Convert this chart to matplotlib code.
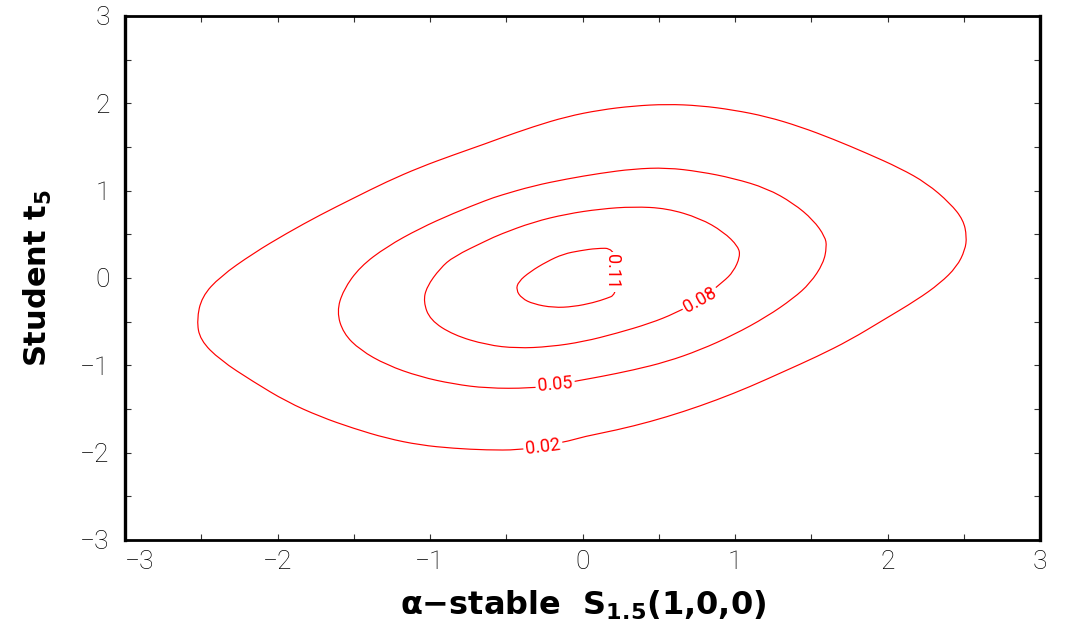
import matplotlib
matplotlib.use("Agg")
import matplotlib.pyplot as plt
import numpy as np
from matplotlib.path import Path
from matplotlib.patches import PathPatch
from matplotlib.ticker import MultipleLocator

# contour levels and the curves (data units)
levels = [0.02, 0.05, 0.08, 0.11]
x_ticks = [-3, -2, -1, 0, 1, 2, 3]
y_ticks = [-3, -2, -1, 0, 1, 2, 3]

c002_x = [0.005, -0.082, -0.259, -0.421, -0.628, -0.847, -1.066, -1.284, -1.503, -1.721,
          -1.940, -2.159, -2.377, -2.508, -2.530, -2.497, -2.377, -2.159, -1.940, -1.721,
          -1.503, -1.284, -1.066, -0.847, -0.628, -0.541, -0.323, -0.104, 0.115, 0.333,
          0.552, 0.770, 0.989, 1.208, 1.426, 1.645, 1.864, 2.082, 2.257, 2.410,
          2.497, 2.519, 2.508, 2.454, 2.344, 2.191, 1.972, 1.754, 1.536, 1.317,
          1.098, 0.880, 0.661, 0.443, 0.224]
c002_y = [-1.818, -1.864, -1.924, -1.970, -1.970, -1.951, -1.913, -1.836, -1.722, -1.588,
          -1.417, -1.188, -0.939, -0.710, -0.481, -0.215, 0.015, 0.283, 0.512, 0.722,
          0.913, 1.103, 1.268, 1.409, 1.543, 1.600, 1.733, 1.848, 1.924, 1.970,
          1.990, 1.974, 1.924, 1.848, 1.733, 1.589, 1.428, 1.257, 1.085, 0.856,
          0.664, 0.473, 0.321, 0.129, -0.061, -0.252, -0.481, -0.710, -0.901, -1.073,
          -1.245, -1.397, -1.531, -1.646, -1.741]

c005_x = [-0.005, -0.180, -0.344, -0.628, -0.847, -1.066, -1.284, -1.459, -1.569, -1.612,
          -1.569, -1.459, -1.284, -1.066, -0.847, -0.628, -0.541, -0.323, -0.104, 0.115,
          0.333, 0.552, 0.770, 0.989, 1.208, 1.382, 1.513, 1.590, 1.601, 1.579,
          1.492, 1.382, 1.208, 0.989, 0.770, 0.552, 0.333, 0.115]
c005_y = [-1.168, -1.226, -1.263, -1.263, -1.214, -1.131, -0.997, -0.825, -0.633, -0.386,
          -0.137, 0.129, 0.359, 0.569, 0.741, 0.893, 0.945, 1.055, 1.134, 1.199,
          1.249, 1.263, 1.218, 1.142, 1.027, 0.856, 0.664, 0.473, 0.359, 0.168,
          -0.061, -0.233, -0.443, -0.653, -0.825, -0.959, -1.054, -1.131]

c008_x = [0.607, 0.443, 0.224, 0.005, -0.213, -0.431, -0.628, -0.847, -1.000, -1.044,
          -1.022, -0.934, -0.847, -0.628, -0.541, -0.323, -0.104, 0.115, 0.333, 0.552,
          0.770, 0.923, 1.022, 1.033, 0.989, 0.923, 0.770]
c008_y = [-0.404, -0.519, -0.633, -0.730, -0.787, -0.805, -0.767, -0.653, -0.481, -0.271,
          -0.100, 0.111, 0.244, 0.430, 0.500, 0.641, 0.733, 0.790, 0.817, 0.798,
          0.684, 0.530, 0.359, 0.244, 0.072, -0.042, -0.252]

c011_x = [0.201, 0.093, -0.016, -0.126, -0.235, -0.344, -0.421, -0.436, -0.399, -0.323,
          -0.191, -0.060, 0.071, 0.159, 0.213, 0.246]
c011_y = [0.340, 0.340, 0.313, 0.275, 0.187, 0.072, -0.042, -0.137, -0.233, -0.298,
          -0.340, -0.329, -0.283, -0.233, -0.195, 0.072]

curves = [(c002_x, c002_y), (c005_x, c005_y), (c008_x, c008_y), (c011_x, c011_y)]

# where the inline level labels sit, and their angle
label_pos = [(-0.26, -1.93, 7), (-0.18, -1.22, 5), (0.77, -0.25, 29), (0.19, 0.07, -90)]


def smooth_loop(xs, ys):
    # closed quadratic b-spline through the traced points, drawn by matplotlib
    p = np.column_stack([xs, ys])
    q = np.roll(p, -1, axis=0)
    mid = (p + q) / 2
    verts = [mid[-1]]
    codes = [Path.MOVETO]
    for i in range(len(p)):
        verts += [p[i], mid[i]]
        codes += [Path.CURVE3, Path.CURVE3]
    return Path(verts, codes)


thin = ['Roboto', 'DejaVu Sans']
plt.rcParams['mathtext.default'] = 'bf'

fig = plt.figure(figsize=(10.67, 6.27), dpi=100)
ax = fig.add_axes([0.1172, 0.1388, 0.8576, 0.8357])

for (cx, cy), lev, (lx, ly, rot) in zip(curves, levels, label_pos):
    ax.add_patch(PathPatch(smooth_loop(cx, cy), facecolor='none', edgecolor='#ff0000',
                           lw=0.85, zorder=2))
    ax.text(lx, ly, f'{lev:.2f}', color='#ff0000', fontsize=13, family=thin,
            rotation=rot, ha='center', va='center',
            rotation_mode='anchor', zorder=3,
            bbox=dict(facecolor='white', edgecolor='none', pad=1.5))

ax.set_xlim(-3, 3)
ax.set_ylim(-3, 3)
ax.set_xticks(x_ticks)
ax.set_yticks(y_ticks)
ax.xaxis.set_minor_locator(MultipleLocator(0.5))
ax.yaxis.set_minor_locator(MultipleLocator(0.5))
ax.tick_params(which='both', direction='in', top=True, right=True, length=4,
               width=0.8, color='#333333')
ax.tick_params(axis='x', which='major', pad=7, labelsize=19)
ax.tick_params(axis='y', which='major', pad=11, labelsize=19)
for lab in ax.get_xticklabels() + ax.get_yticklabels():
    lab.set_family(thin)
    lab.set_fontweight('light')
# first x label is pushed right so it clears the -3 on the y axis
ax.get_xticklabels()[0].set_horizontalalignment('left')

for side in ['left', 'right']:
    ax.spines[side].set_linewidth(2.4)
for side in ['top', 'bottom']:
    ax.spines[side].set_linewidth(2.0)

ax.set_xlabel('α−stable  $S_{1.5}$(1,0,0)', fontsize=23, fontweight='bold')
ax.set_ylabel('Student $t_5$', fontsize=22, fontweight='bold')
ax.xaxis.set_label_coords(0.5, -0.124)
ax.xaxis.label.set_va('center')
ax.yaxis.set_label_coords(-0.095, 0.5)
ax.yaxis.label.set_va('center')

fig.savefig('out.png', dpi=100)
